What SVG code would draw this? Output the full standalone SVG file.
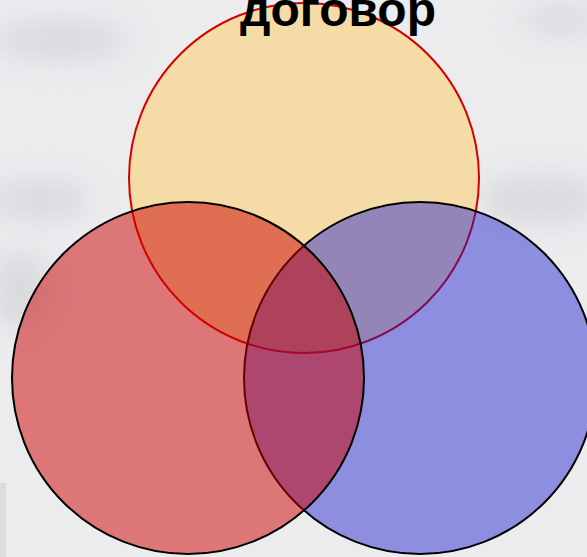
<svg xmlns="http://www.w3.org/2000/svg" width="587" height="557" viewBox="0 0 587 557">
<defs>
<filter id="blur" x="-50%" y="-50%" width="200%" height="200%"><feGaussianBlur stdDeviation="14"/></filter>
<style>
.c{stroke-width:2}
.t{font-family:"Liberation Sans",Arial,sans-serif;font-weight:bold;font-size:48px;fill:#000}
</style>
</defs>
<rect x="0" y="0" width="587" height="557" fill="#ececef"/>
<g filter="url(#blur)" fill="#cfcfd3" opacity="0.6">
<ellipse cx="60" cy="40" rx="70" ry="20"/>
<ellipse cx="40" cy="200" rx="50" ry="20"/>
<ellipse cx="20" cy="290" rx="30" ry="40"/>
<ellipse cx="540" cy="200" rx="60" ry="25"/>
<ellipse cx="560" cy="20" rx="40" ry="15"/>
</g>
<rect x="0" y="483" width="6" height="74" fill="#dcdcdc"/>
<g id="yellow"><circle class="c" cx="304" cy="178" r="175" fill="#fecc60" fill-opacity="0.5" stroke="#d40000"/></g>
<g id="blue"><circle class="c" cx="420" cy="378" r="176" fill="#1717cd" fill-opacity="0.44" stroke="#000"/></g>
<g id="red"><circle class="c" cx="188" cy="378" r="176" fill="#cc0000" fill-opacity="0.5" stroke="#000"/></g>
<g id="title"><text class="t" x="338" y="26" text-anchor="middle">договор</text></g>
</svg>
